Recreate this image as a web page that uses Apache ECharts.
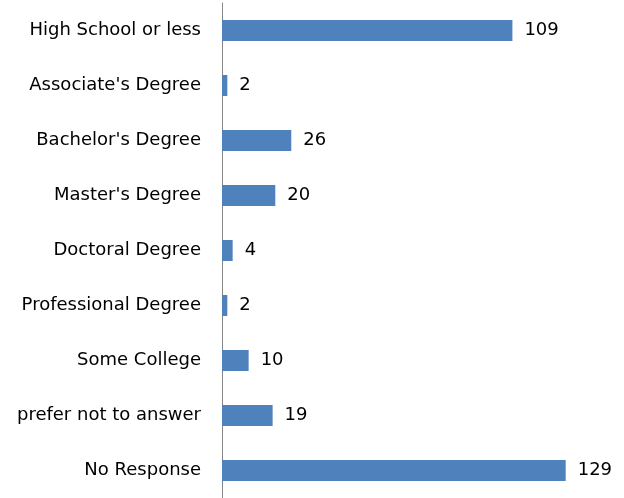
<!DOCTYPE html>
<html>
<head>
<meta charset="utf-8">
<script src="https://cdn.jsdelivr.net/npm/echarts@6/dist/echarts.min.js"></script>
<style>html,body{margin:0;padding:0;background:#fff}#c{width:624px;height:498px}</style>
</head>
<body>
<div id="c"></div>
<script>
var categories = ["High School or less","Associate's Degree","Bachelor's Degree","Master's Degree","Doctoral Degree","Professional Degree","Some College","prefer not to answer","No Response"];
var values = [109, 2, 26, 20, 4, 2, 10, 19, 129];

var chart = echarts.init(document.getElementById('c'));
chart.setOption({
  animation: false,
  grid: {left: 222, right: 29, top: 3, bottom: -2, containLabel: false},
  xAxis: {type: 'value', min: 0, max: 140, show: false},
  yAxis: {
    type: 'category', data: categories, inverse: true,
    axisLine: {show: true, lineStyle: {color: '#868686', width: 1}},
    axisTick: {show: false},
    axisLabel: {color: '#000', fontSize: 18, fontFamily: 'DejaVu Sans', margin: 21}
  },
  series: [{
    type: 'bar', data: values, barWidth: 21,
    itemStyle: {color: '#4F81BD'},
    label: {show: true, position: 'right', distance: 12, color: '#000', fontSize: 18, fontFamily: 'DejaVu Sans'}
  }]
});
</script>
</body>
</html>
